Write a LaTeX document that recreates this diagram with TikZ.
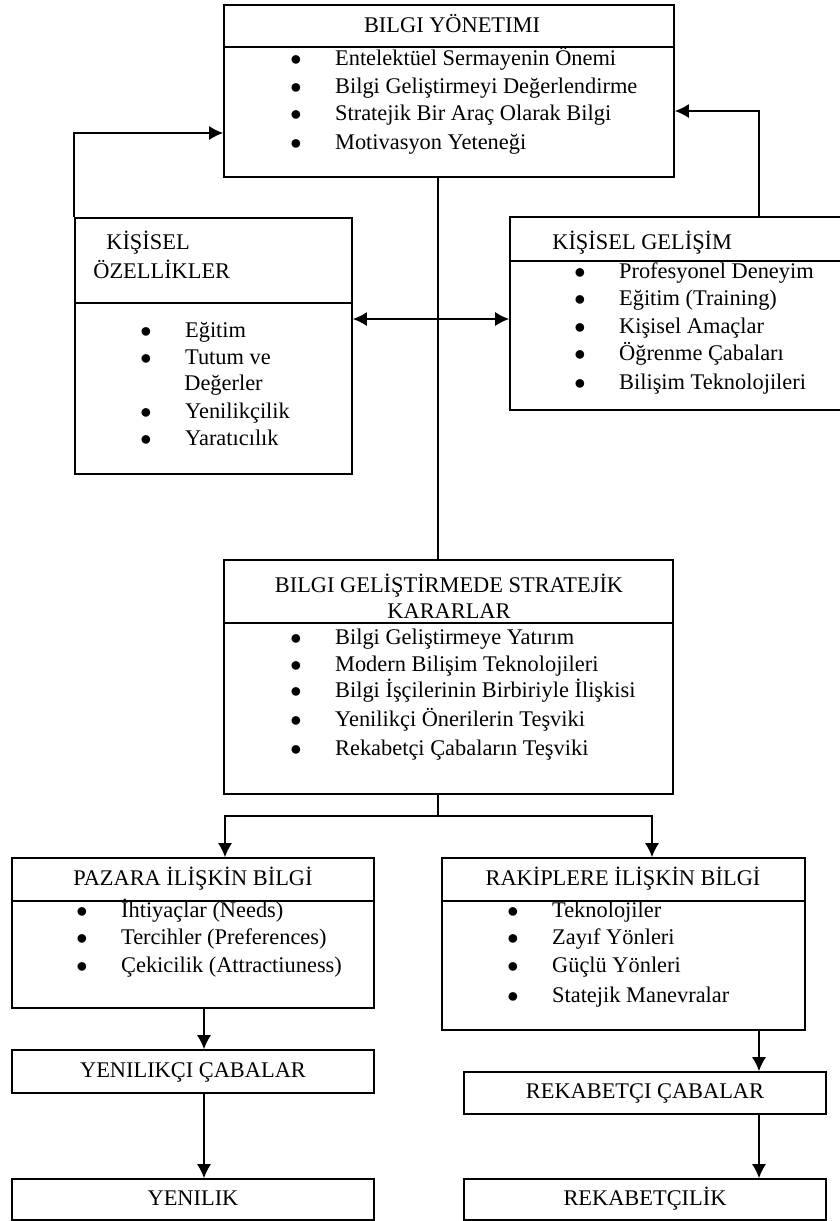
\documentclass[tikz,border=0pt]{standalone}
\usepackage{fontspec}
\setmainfont{Liberation Serif}
\usetikzlibrary{arrows.meta, fit}
\newcommand{\itm}[1]{\makebox[24pt][l]{$\bullet$}#1}

\begin{document}
\begin{tikzpicture}[x=0.536pt, y=-0.536pt, >={Latex[length=7.5pt, width=7.5pt]},
  font=\fontsize{12}{14}\selectfont,
  box/.style={draw, line width=0.9pt, inner sep=0pt},
  item/.style={anchor=west, inner sep=0pt, text height=1.6ex, text depth=0.3ex, yshift=-1pt},
  head/.style={inner sep=0pt, text height=1.6ex, text depth=0.3ex},
  conn/.style={line width=0.8pt}]
  \useasboundingbox (0,0) rectangle (840,1221);

  % boxes
  \node[box, fit={(224,5) (674,177)}] (bym) {};
  \node[box, fit={(75,218) (352,474)}] (ozel) {};
  \node[box, fit={(510,217) (846,410)}] (gel) {};
  \node[box, fit={(224,560) (673,794)}] (sk) {};
  \node[box, fit={(12,858) (374,1008)}] (paz) {};
  \node[box, fit={(442,858) (805,1030)}] (rak) {};
  \node[box, fit={(12,1050) (374,1093)}] (yc) {};
  \node[box, fit={(12,1179) (374,1220)}] (yen) {};
  \node[box, fit={(464,1072) (826,1114)}] (rc) {};
  \node[box, fit={(464,1179) (826,1220)}] (rek) {};

  % title lines
  \draw[line width=0.9pt] (bym.west |- 0,47) -- (bym.east |- 0,47);
  \draw[line width=0.9pt] (ozel.west |- 0,303) -- (ozel.east |- 0,303);
  \draw[line width=0.9pt] (gel.west |- 0,261) -- (gel.east |- 0,261);
  \draw[line width=0.9pt] (sk.west |- 0,623) -- (sk.east |- 0,623);
  \draw[line width=0.9pt] (paz.west |- 0,901) -- (paz.east |- 0,901);
  \draw[line width=0.9pt] (rak.west |- 0,901) -- (rak.east |- 0,901);

  % BILGI YONETIMI
  \node[head] (bymt) at (452,27) {BILGI YÖNETIMI};
  \node[item] (bym1) at (290,58) {\itm{Entelektüel Sermayenin Önemi}};
  \node[item] (bym2) at (290,86) {\itm{Bilgi Geliştirmeyi Değerlendirme}};
  \node[item] (bym3) at (290,113) {\itm{Stratejik Bir Araç Olarak Bilgi}};
  \node[item] (bym4) at (290,142) {\itm{Motivasyon Yeteneği}};

  % KISISEL OZELLIKLER
  \node[item] (ozelt1) at (106,242) {KİŞİSEL};
  \node[item] (ozelt2) at (93,271) {ÖZELLİKLER};
  \node[item] (ozel1) at (140,330) {\itm{Eğitim}};
  \node[item] (ozel2) at (140,357) {\itm{Tutum ve}};
  \node[item] (ozel3) at (184,383) {Değerler};
  \node[item] (ozel4) at (140,411) {\itm{Yenilikçilik}};
  \node[item] (ozel5) at (140,438) {\itm{Yaratıcılık}};

  % KISISEL GELISIM
  \node[item] (gelt) at (552,242) {KİŞİSEL GELİŞİM};
  \node[item] (gel1) at (574,271) {\itm{Profesyonel Deneyim}};
  \node[item] (gel2) at (574,298) {\itm{Eğitim (Training)}};
  \node[item] (gel3) at (574,326) {\itm{Kişisel Amaçlar}};
  \node[item] (gel4) at (574,353) {\itm{Öğrenme Çabaları}};
  \node[item] (gel5) at (574,382) {\itm{Bilişim Teknolojileri}};

  % STRATEJIK KARARLAR
  \node[head, align=center, text height=, text depth=] (skt) at (449,596)
    {BILGI GELİŞTİRMEDE STRATEJİK\\KARARLAR};
  \node[item] (sk1) at (290,637) {\itm{Bilgi Geliştirmeye Yatırım}};
  \node[item] (sk2) at (290,664) {\itm{Modern Bilişim Teknolojileri}};
  \node[item] (sk3) at (290,690) {\itm{Bilgi İşçilerinin Birbiriyle İlişkisi}};
  \node[item] (sk4) at (290,719) {\itm{Yenilikçi Önerilerin Teşviki}};
  \node[item] (sk5) at (290,748) {\itm{Rekabetçi Çabaların Teşviki}};

  % PAZARA ILISKIN BILGI
  \node[head] (pazt) at (193,880) {PAZARA İLİŞKİN BİLGİ};
  \node[item] (paz1) at (76,910) {\itm{İhtiyaçlar (Needs)}};
  \node[item] (paz2) at (76,937) {\itm{Tercihler (Preferences)}};
  \node[item] (paz3) at (76,965) {\itm{Çekicilik (Attractiuness)}};

  % RAKIPLERE ILISKIN BILGI
  \node[head] (rakt) at (623,880) {RAKİPLERE İLİŞKİN BİLGİ};
  \node[item] (rak1) at (507,910) {\itm{Teknolojiler}};
  \node[item] (rak2) at (507,937) {\itm{Zayıf Yönleri}};
  \node[item] (rak3) at (507,965) {\itm{Güçlü Yönleri}};
  \node[item] (rak4) at (507,995) {\itm{Statejik Manevralar}};

  % lower boxes
  \node[head] (yct) at (yc) {YENILIKÇI ÇABALAR};
  \node[head] (yent) at (yen) {YENILIK};
  \node[head] (rct) at (rc) {REKABETÇI ÇABALAR};
  \node[head] (rekt) at (rek) {REKABETÇILİK};

  % connectors
  \draw[conn, ->] (ozel.north west) |- (bym.west |- 0,133);
  \draw[conn, ->] (gel.north -| 759,0) |- (bym.east |- 0,111);
  \draw[line width=0.6pt] (bym.south -| 438,0) -- (sk.north -| 438,0);
  \draw[conn, <->] (ozel.east |- 0,319) -- (gel.west |- 0,319);
  \draw[line width=0.6pt] (sk.south -| 438,0) -- ++(0,21) coordinate (br);
  \draw[conn, ->] (br) -| (paz.north -| 225,0);
  \draw[conn, ->] (br) -| (rak.north -| 652,0);
  \draw[conn, ->] (paz.south -| 204,0) -- (yc.north -| 204,0);
  \draw[conn, ->] (yc.south -| 204,0) -- (yen.north -| 204,0);
  \draw[conn, ->] (rak.south -| 759,0) -- (rc.north -| 759,0);
  \draw[conn, ->] (rc.south -| 759,0) -- (rek.north -| 759,0);
\end{tikzpicture}
\end{document}
